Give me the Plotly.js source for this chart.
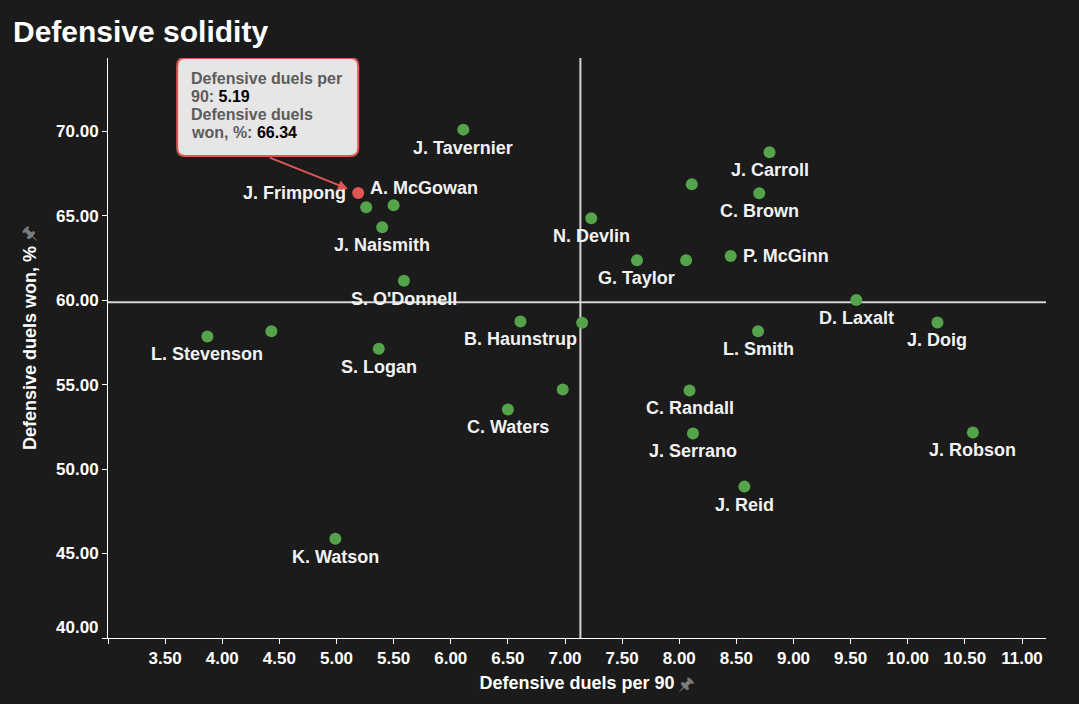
<!DOCTYPE html>
<html>
<head>
<meta charset="utf-8">
<script src="https://cdn.plot.ly/plotly-3.0.1.min.js"></script>
<style>
  html, body { margin: 0; padding: 0; background: #1b1b1b; }
  #chart { width: 1079px; height: 704px; }
</style>
</head>
<body>
<div id="chart"></div>
<script>
// ---- data ----
var players = ["J. Tavernier","J. Frimpong","","A. McGowan","J. Naismith","S. O'Donnell",
  "L. Stevenson","","S. Logan","K. Watson","B. Haunstrup","","","C. Waters",
  "J. Carroll","","C. Brown","N. Devlin","G. Taylor","","P. McGinn","D. Laxalt",
  "L. Smith","J. Doig","C. Randall","J. Serrano","J. Robson","J. Reid"];
var duelsPer90 = [6.11,5.19,5.26,5.50,5.40,5.59,3.87,4.43,5.37,4.99,6.61,7.15,6.98,6.50,
  8.79,8.11,8.70,7.23,7.63,8.06,8.45,9.55,8.69,10.26,8.09,8.12,10.57,8.57];
var duelsWonPct = [70.09,66.34,65.50,65.61,64.31,61.15,57.85,58.15,57.12,45.88,58.74,58.66,54.71,53.53,
  68.75,66.86,66.33,64.84,62.36,62.36,62.61,60.01,58.15,58.68,54.65,52.11,52.17,48.96];
var highlighted = "J. Frimpong";
var xTickVals = [3,3.5,4,4.5,5,5.5,6,6.5,7,7.5,8,8.5,9,9.5,10,10.5,11];
var yTickVals = [40,45,50,55,60,65,70];

// ---- styling ----
var FONT = "Liberation Sans, Arial, Helvetica, sans-serif";
var BG = "#1b1b1b";
var GREEN = "#55a44b";
var RED = "#e05656";

// label placement per player (style only)
var labelPlace = {
  "J. Frimpong": {xanchor: "right", xshift: -10, yshift: 0},
  "A. McGowan": {xanchor: "left", xshift: -26, yshift: 17},
  "P. McGinn": {xanchor: "left", xshift: 10, yshift: 0}
};

var mean = function (a) { return a.reduce(function (s, v) { return s + v; }, 0) / a.length; };
var meanX = mean(duelsPer90), meanY = mean(duelsWonPct);

var colors = players.map(function (p) { return p === highlighted ? RED : GREEN; });

var trace = {
  type: "scatter", mode: "markers",
  x: duelsPer90, y: duelsWonPct, text: players,
  marker: {size: 12, color: colors, line: {width: 0}},
  hoverinfo: "skip", showlegend: false, cliponaxis: false
};

var annotations = [];
players.forEach(function (p, i) {
  if (!p) return;
  var pl = labelPlace[p] || {xanchor: "center", xshift: 0, yshift: -18};
  annotations.push({
    x: duelsPer90[i], y: duelsWonPct[i], xref: "x", yref: "y",
    text: "<b>" + p + "</b>", showarrow: false,
    xanchor: pl.xanchor, yanchor: "middle", xshift: pl.xshift, yshift: pl.yshift,
    font: {family: FONT, size: 18, color: "#f2f2f2"}
  });
});

// tooltip for the highlighted player
var hi = players.indexOf(highlighted);
var hx = duelsPer90[hi], hy = duelsWonPct[hi];
var tipLines = [
  "<span style='color:#5c5c5c'>Defensive duels per</span>",
  "<span style='color:#5c5c5c'>90: </span><span style='color:#000'>" + hx.toFixed(2) + "</span>",
  "<span style='color:#5c5c5c'>Defensive duels</span>",
  "<span style='color:#5c5c5c'>won, %: </span><span style='color:#000'>" + hy.toFixed(2) + "</span>"
];
tipLines.forEach(function (t, k) {
  annotations.push({
    x: hx, y: hy, xref: "x", yref: "y", text: "<b>" + t + "</b>", showarrow: false,
    xanchor: "left", yanchor: "middle", xshift: -169, yshift: 114 - k * 18,
    font: {family: FONT, size: 16, color: "#5c5c5c"}
  });
});
annotations.push({
  x: hx, y: hy, xref: "x", yref: "y", text: "", showarrow: true,
  ax: -90, ay: -36, arrowcolor: RED, arrowwidth: 2, arrowhead: 2, arrowsize: 1, standoff: 11
});

// axis tick label that sits at the corner
annotations.push({
  xref: "paper", yref: "paper", x: -0.0075, y: 0.018, xanchor: "right", yanchor: "middle",
  text: "<b>40.00</b>", showarrow: false, font: {family: FONT, size: 17, color: "#ffffff"}
});
// pin icons next to axis titles
annotations.push({
  xref: "paper", yref: "paper", x: 0.617, y: -0.078, xanchor: "center", yanchor: "middle",
  text: "\u{1F588}", showarrow: false, font: {family: "DejaVu Sans, Noto Sans, sans-serif", size: 18, color: "#7a7a7a"}
});
annotations.push({
  xref: "paper", yref: "paper", x: -0.084, y: 0.697, xanchor: "center", yanchor: "middle",
  text: "\u{1F588}", showarrow: false, textangle: -90, font: {family: "DejaVu Sans, Noto Sans, sans-serif", size: 18, color: "#7a7a7a"}
});

// rounded tooltip box, in pixels relative to the highlighted point
function roundRect(x0, y0, x1, y1, r) {
  return "M" + (x0 + r) + "," + y1 + " L" + (x1 - r) + "," + y1 +
    " Q" + x1 + "," + y1 + " " + x1 + "," + (y1 - r) +
    " L" + x1 + "," + (y0 + r) + " Q" + x1 + "," + y0 + " " + (x1 - r) + "," + y0 +
    " L" + (x0 + r) + "," + y0 + " Q" + x0 + "," + y0 + " " + x0 + "," + (y0 + r) +
    " L" + x0 + "," + (y1 - r) + " Q" + x0 + "," + y1 + " " + (x0 + r) + "," + y1 + " Z";
}

var shapes = [
  {type: "line", xref: "x", yref: "paper", x0: meanX, x1: meanX, y0: 0, y1: 1,
   line: {color: "#d4d4d4", width: 2}, layer: "below"},
  {type: "line", xref: "paper", yref: "y", x0: 0, x1: 1, y0: meanY, y1: meanY,
   line: {color: "#d4d4d4", width: 2}, layer: "below"},
  {type: "path", xref: "x", yref: "y", xsizemode: "pixel", ysizemode: "pixel",
   xanchor: hx, yanchor: hy, path: roundRect(-181, 37, 0, 135, 8),
   fillcolor: "#e6e6e6", line: {color: RED, width: 2}, layer: "above"}
];

var layout = {
  width: 1079, height: 704,
  paper_bgcolor: BG, plot_bgcolor: BG,
  margin: {l: 108, r: 33, t: 58, b: 66},
  font: {family: FONT, color: "#ffffff"},
  title: {text: "<b>Defensive solidity</b>", x: 13 / 1079, xanchor: "left", xref: "container",
          y: 1 - 31 / 704, yanchor: "middle", yref: "container",
          font: {family: FONT, size: 30, color: "#ffffff"}},
  xaxis: {
    range: [3, 11.21], tickvals: xTickVals,
    ticktext: xTickVals.map(function (v, i) { return i === 0 ? "" : "<b>" + v.toFixed(2) + "</b>"; }),
    showgrid: false, zeroline: false, showline: true, linecolor: "#ffffff", linewidth: 1,
    ticks: "outside", ticklen: 5, tickcolor: "#ffffff", tickwidth: 1,
    tickfont: {family: FONT, size: 17, color: "#ffffff"},
    title: {text: "<b>Defensive duels per 90</b>", standoff: 8, font: {family: FONT, size: 18, color: "#ffffff"}}
  },
  yaxis: {
    range: [40, 74.33], tickvals: yTickVals,
    ticktext: yTickVals.map(function (v, i) { return i === 0 ? "" : "<b>" + v.toFixed(2) + "</b>"; }),
    showgrid: false, zeroline: false, showline: true, linecolor: "#ffffff", linewidth: 1,
    ticks: "outside", ticklen: 5, tickcolor: "#ffffff", tickwidth: 1,
    tickfont: {family: FONT, size: 17, color: "#ffffff"},
    title: {text: "<b>Defensive duels won, %</b>", standoff: 14, font: {family: FONT, size: 18, color: "#ffffff"}}
  },
  shapes: shapes,
  annotations: annotations,
  hovermode: false
};

Plotly.newPlot("chart", [trace], layout, {displayModeBar: false, staticPlot: true});
</script>
</body>
</html>
